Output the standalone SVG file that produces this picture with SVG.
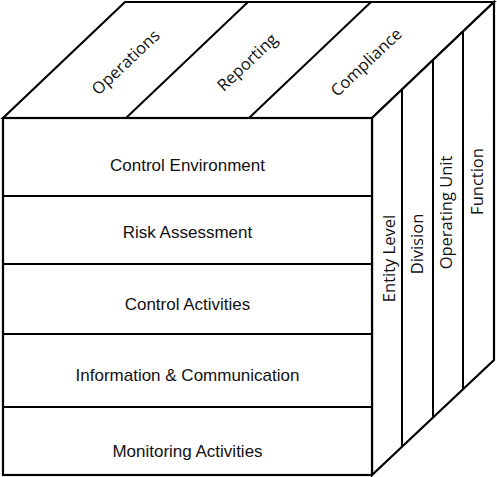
<svg xmlns="http://www.w3.org/2000/svg" width="497" height="477" viewBox="0 0 497 477">
  <style>
    .face { fill: #ffffff; stroke: #000000; stroke-width: 2.2; stroke-linejoin: miter; }
    .div { fill: none; stroke: #000000; stroke-width: 2; }
    .front { font-family: "Liberation Sans", Arial, sans-serif; font-size: 17px; fill: #111111; text-anchor: middle; }
    .side { font-family: "Open Sans", "Liberation Sans", sans-serif; font-size: 16.5px; fill: #111111; text-anchor: middle; }
  </style>

  <!-- top face: objectives -->
  <g id="top-face">
    <polygon class="face" points="3,118 125,2 494,2 372,118"/>
    <line class="div" x1="126" y1="118" x2="248" y2="2"/>
    <line class="div" x1="249" y1="118" x2="371" y2="2"/>
    <text class="side" transform="translate(125.5,62) rotate(-43.3)" y="6">Operations</text>
    <text class="side" transform="translate(247,62) rotate(-43.3)" y="6">Reporting</text>
    <text class="side" transform="translate(366,62) rotate(-43.3)" y="6">Compliance</text>
  </g>

  <!-- right face: organisational structure -->
  <g id="right-face">
    <polygon class="face" points="372,118 494,2 494,360 372,475"/>
    <line class="div" x1="402" y1="89" x2="402" y2="447"/>
    <line class="div" x1="433" y1="60" x2="433" y2="418"/>
    <line class="div" x1="463" y1="31" x2="463" y2="389"/>
    <text class="side" transform="translate(395,258.5) rotate(-90)">Entity Level</text>
    <text class="side" transform="translate(423,244) rotate(-90)">Division</text>
    <text class="side" transform="translate(452,212.5) rotate(-90)">Operating Unit</text>
    <text class="side" transform="translate(483,181.5) rotate(-90)">Function</text>
  </g>

  <!-- front face: components -->
  <g id="front-face">
    <rect class="face" x="3" y="118" width="369" height="357"/>
  </g>

  <g id="connectors">
    <line class="div" x1="3" y1="196" x2="372" y2="196"/>
    <line class="div" x1="3" y1="264" x2="372" y2="264"/>
    <line class="div" x1="3" y1="334" x2="372" y2="334"/>
    <line class="div" x1="3" y1="407" x2="372" y2="407"/>
  </g>

  <g id="control-environment"><text class="front" x="187.5" y="171">Control Environment</text></g>
  <g id="risk-assessment"><text class="front" x="187.5" y="238">Risk Assessment</text></g>
  <g id="control-activities"><text class="front" x="187.5" y="310">Control Activities</text></g>
  <g id="information-communication"><text class="front" x="187.5" y="381">Information &amp; Communication</text></g>
  <g id="monitoring-activities"><text class="front" x="187.5" y="457">Monitoring Activities</text></g>
</svg>
